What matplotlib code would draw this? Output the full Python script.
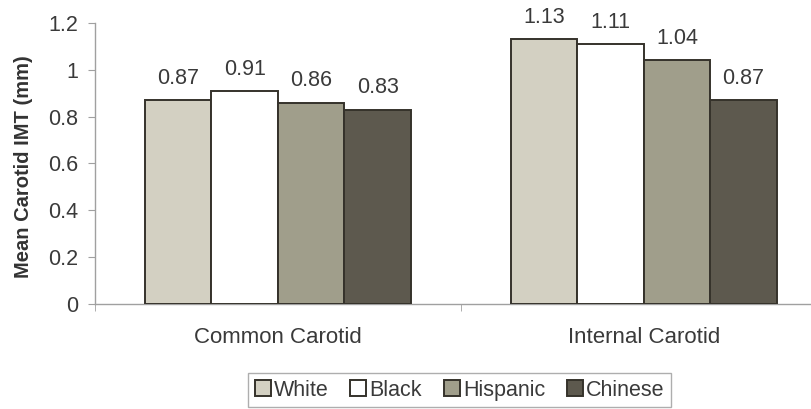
import numpy as np
import matplotlib.pyplot as plt

plt.rcParams['font.family'] = ['Liberation Sans', 'DejaVu Sans']

sites = ['Common Carotid', 'Internal Carotid']
groups = ['White', 'Black', 'Hispanic', 'Chinese']
white = [0.87, 1.13]
black = [0.91, 1.11]
hispanic = [0.86, 1.04]
chinese = [0.83, 0.87]
colors = ['#d3d0c2', '#ffffff', '#a09e8b', '#5d594e']

fig = plt.figure(figsize=(8.12, 4.09), dpi=100)
ax = fig.add_axes([0.117, 0.257, 0.883, 0.687])

x = np.arange(len(sites))
w = 0.182
series = [white, black, hispanic, chinese]
for i, vals in enumerate(series):
    pos = x + (i - 1.5) * w
    ax.bar(pos, vals, w, color=colors[i], edgecolor='#35322b',
           linewidth=1.4, label=groups[i], zorder=3)
    for p, v in zip(pos, vals):
        ax.annotate('%.2f' % v, (p, v), xytext=(0, 8),
                    textcoords='offset points', ha='center', va='bottom',
                    fontsize=15.5, color='#3a3a3a')

ax.set_xlim(-0.5, 1.46)
ax.set_ylim(0, 1.2)
ax.set_yticks(np.arange(0, 1.21, 0.2))
ax.set_yticklabels(['0', '0.2', '0.4', '0.6', '0.8', '1', '1.2'])
ax.set_xticks(x)
ax.set_xticklabels(sites)
ax.set_xticks([-0.5, 0.5], minor=True)
ax.tick_params(axis='x', which='major', length=0, pad=17, labelsize=16,
               labelcolor='#3a3a3a')
ax.tick_params(axis='x', which='minor', length=5, color='#a0a0a0')
ax.tick_params(axis='y', length=5, color='#a0a0a0', labelsize=15.5,
               labelcolor='#3a3a3a', pad=7)
for s in ['top', 'right']:
    ax.spines[s].set_visible(False)
for s in ['left', 'bottom']:
    ax.spines[s].set_color('#a0a0a0')
    ax.spines[s].set_linewidth(1)

ax.set_ylabel('Mean Carotid IMT (mm)', fontsize=14.5, fontweight='bold',
              color='#333333')
ax.yaxis.set_label_coords(-0.087, 0.49)

leg = fig.legend(loc='center', bbox_to_anchor=(0.566, 0.046), ncol=4,
                 fontsize=15.5, handlelength=0.75, handleheight=0.75,
                 handletextpad=0.15, columnspacing=1.0, fancybox=False,
                 borderpad=0.3, borderaxespad=0, labelcolor='#3a3a3a')
leg.get_frame().set_edgecolor('#9a9a9a')
leg.get_frame().set_linewidth(1)

fig.savefig('out.png', dpi=100)
